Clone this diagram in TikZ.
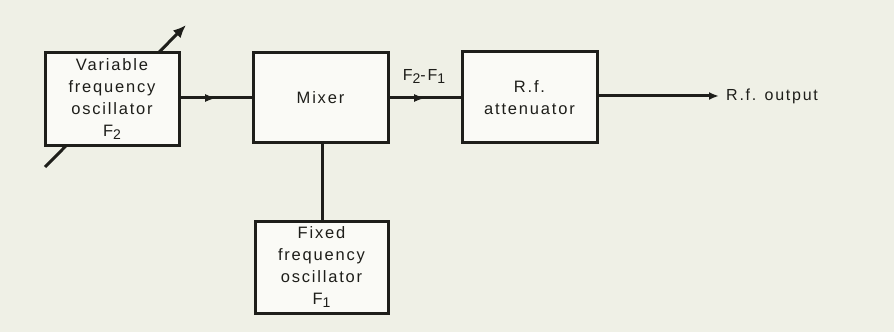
\documentclass[tikz,border=0pt]{standalone}
\usepackage{fontspec}
\setmainfont{Liberation Sans}[LetterSpace=11]
\usetikzlibrary{arrows.meta,decorations.markings}
\definecolor{paper}{HTML}{EFF0E6}
\definecolor{boxfill}{HTML}{FAFAF6}
\definecolor{ink}{HTML}{1E1E1A}
\tikzset{
  x=1pt,y=1pt,
  blk/.style={draw=ink,line width=3pt,fill=boxfill,inner sep=0pt,align=center,font=\fontsize{16.5}{22}\selectfont,text=ink},
  wire/.style={draw=ink,line width=3pt},
  midarrow/.style={postaction={decorate},decoration={markings,mark=at position 0.5 with {\arrow[line width=1pt]{Latex[length=11pt,width=8pt]}}}},
  lbl/.style={font=\fontsize{16}{20}\selectfont,text=ink,inner sep=0pt}
}
\newcommand{\sbs}[1]{\raisebox{-3pt}{\fontsize{14}{14}\selectfont #1}}
\begin{document}
\begin{tikzpicture}
\fill[paper] (0,0) rectangle (894,332);
\useasboundingbox (0,0) rectangle (894,332);
\coordinate (tuneA) at (45,165);
\coordinate (tuneB) at (186,307);
\draw[wire,-{Latex[length=13pt,width=11pt]}] (tuneA) -- (tuneB);
\node[blk,minimum width=134,minimum height=93] (vfo) at (112,232.5) {Variable\\frequency\\oscillator\\F\sbs{2}};
\node[blk,minimum width=135,minimum height=90] (mix) at (320.5,234) {Mixer};
\node[blk,minimum width=135,minimum height=91] (att) at (529.5,234.5) {R.f.\\attenuator};
\node[blk,minimum width=133,minimum height=91] (fix) at (321.5,64.5) {Fixed\\frequency\\oscillator\\F\sbs{1}};
\draw[wire,midarrow] (vfo.east |- 0,234) -- (mix.west |- 0,234);
\draw[wire,midarrow] (mix.east) -- (att.west |- mix.east);
\draw[wire] (mix.south) ++(2,0) coordinate (ms) -- (ms |- fix.north);
\coordinate (out) at (719,236);
\draw[wire,-{Latex[length=10pt,width=8pt]}] (att.east |- out) -- (out);
\node[lbl,anchor=west] (outl) at (726,236) {R.f. output};
\node[lbl] (diff) at (424,256) {F\sbs{2}-F\sbs{1}};
\end{tikzpicture}
\end{document}
